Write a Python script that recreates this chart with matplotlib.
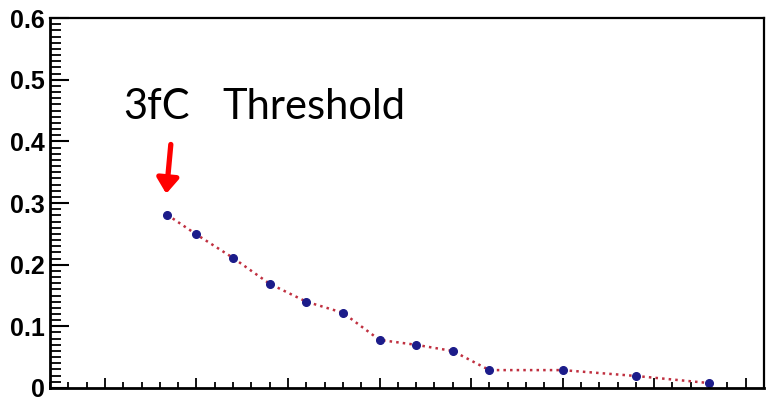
import matplotlib
matplotlib.use("Agg")
import matplotlib.pyplot as plt
from matplotlib.ticker import MultipleLocator

# efficiency vs. threshold
thr = [8.4, 10, 12, 14, 16, 18, 20, 22, 24, 26, 30, 34, 38]
eff = [0.281, 0.249, 0.211, 0.169, 0.140, 0.122, 0.078, 0.070, 0.060, 0.029, 0.029, 0.0195, 0.008]
yticks = [0, 0.1, 0.2, 0.3, 0.4, 0.5, 0.6]
ylabels = ["0", "0.1", "0.2", "0.3", "0.4", "0.5", "0.6"]

fig = plt.figure(figsize=(7.69, 4.11), dpi=100)
ax = fig.add_axes([0.065, 0.056, 0.9285, 0.9])

ax.plot(thr, eff, ':', color='#c03040', linewidth=1.8)
ax.plot(thr, eff, 'o', color='#1c1c8a', markersize=5.5)

ax.set_xlim(2, 41)
ax.set_ylim(0, 0.6)
ax.set_yticks(yticks)
ax.set_yticklabels(ylabels, fontsize=18, fontweight='bold', family='Liberation Sans')
ax.yaxis.set_minor_locator(MultipleLocator(0.01))
ax.xaxis.set_major_locator(MultipleLocator(5))
ax.xaxis.set_minor_locator(MultipleLocator(1))
ax.set_xticklabels([])

ax.tick_params(axis='y', which='major', direction='in', length=14, width=1.5, pad=4)
ax.tick_params(axis='y', which='minor', direction='in', length=8, width=1.3)
ax.tick_params(axis='x', which='major', direction='in', length=7, width=1.3, labelbottom=False)
ax.tick_params(axis='x', which='minor', direction='in', length=4.5, width=1.3)
for s in ax.spines.values():
    s.set_linewidth(1.6)
ax.spines['left'].set_linewidth(2)
ax.spines['bottom'].set_linewidth(2)

ax.text(7.8, 0.436, "3fC", fontsize=30, family='Lato', ha='center', va='baseline')
ax.text(11.4, 0.436, "Threshold", fontsize=30, family='Lato', ha='left', va='baseline')
ax.annotate("", xy=(8.35, 0.315), xytext=(8.6, 0.395),
            arrowprops=dict(arrowstyle='-|>,head_width=0.65,head_length=0.9',
                            color='red', lw=3.8, shrinkA=0, shrinkB=0))

fig.savefig("out.png", dpi=100)
